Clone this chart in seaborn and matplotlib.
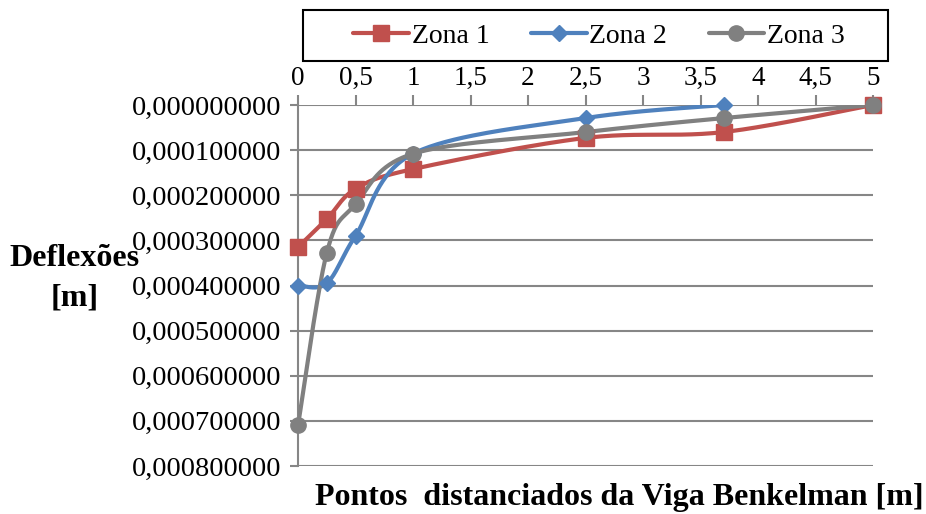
import numpy as np
import pandas as pd
import seaborn as sns
import matplotlib.pyplot as plt
from matplotlib.lines import Line2D
from matplotlib.patches import Rectangle
from matplotlib.ticker import FuncFormatter, MultipleLocator

# Deflection readings along the Benkelman beam (distance in m, deflection in m)
dist_z1 = [0, 0.25, 0.5, 1, 2.5, 3.7, 5]
zona1 = [0.000315, 0.000253, 0.000186, 0.000142, 0.000073, 0.000060, 0.0]

dist_z2 = [0, 0.25, 0.5, 1, 2.5, 3.7]
zona2 = [0.000400, 0.000395, 0.000290, 0.000108, 0.000029, 0.0]

dist_z3 = [0, 0.25, 0.5, 1, 2.5, 3.7, 5]
zona3 = [0.000710, 0.000328, 0.000220, 0.000108, 0.000060, 0.000029, 0.0]

series_names = ["Zona 1", "Zona 2", "Zona 3"]
colors = ["#C0504D", "#4F81BD", "#808080"]
markers = ["s", "D", "o"]
msizes = [11, 8, 11]

sns.set_theme(style="white")
plt.rcParams["font.family"] = ["Liberation Serif", "DejaVu Serif"]
plt.rcParams["text.color"] = "black"

W, H = 926, 514
fig = plt.figure(figsize=(W / 100, H / 100), dpi=100)
ax = fig.add_axes([298 / W, 1 - 466 / H, (873 - 298) / W, (466 - 105) / H])

XMAX, YMAX = 5.0, 0.0008
# scale factors so the smoothing is done in screen-like proportions
sx, sy = 575 / XMAX, 361 / YMAX


def smooth(xs, ys, n=40):
    """Bezier smoothing through every point (control points from neighbours)."""
    P = np.column_stack([np.asarray(xs) * sx, np.asarray(ys) * sy])
    out = []
    for i in range(len(P) - 1):
        p0 = P[i - 1] if i > 0 else P[i]
        p1, p2 = P[i], P[i + 1]
        p3 = P[i + 2] if i + 2 < len(P) else P[i + 1]
        c1 = p1 + (p2 - p0) / 6
        c2 = p2 - (p3 - p1) / 6
        t = np.linspace(0, 1, n)[:, None]
        seg = ((1 - t) ** 3) * p1 + 3 * ((1 - t) ** 2) * t * c1 + 3 * (1 - t) * t ** 2 * c2 + t ** 3 * p2
        out.append(seg if i == 0 else seg[1:])
    Q = np.vstack(out)
    return Q[:, 0] / sx, Q[:, 1] / sy


data = [(dist_z1, zona1), (dist_z2, zona2), (dist_z3, zona3)]
for (xs, ys), name, c, m, ms in zip(data, series_names, colors, markers, msizes):
    cx, cy = smooth(xs, ys)
    curve = pd.DataFrame({"x": cx, "y": cy})
    sns.lineplot(data=curve, x="x", y="y", sort=False, estimator=None,
                 color=c, lw=3, ax=ax, zorder=3)
    ax.plot(xs, ys, linestyle="none", marker=m, markersize=ms, color=c,
            markeredgecolor=c, zorder=4, clip_on=False)

ax.set_xlim(0, XMAX)
ax.set_ylim(YMAX, 0)

ax.xaxis.set_major_locator(MultipleLocator(0.5))
ax.yaxis.set_major_locator(MultipleLocator(0.0001))
ax.xaxis.tick_top()
ax.xaxis.set_major_formatter(FuncFormatter(lambda v, p: f"{v:g}".replace(".", ",")))
ax.yaxis.set_major_formatter(FuncFormatter(lambda v, p: f"{v:.9f}".replace(".", ",")))

ax.grid(axis="y", color="#868686", lw=1.5)
ax.grid(axis="x", visible=False)
for s in ["right", "bottom", "top"]:
    ax.spines[s].set_visible(False)
ax.spines["left"].set_color("#868686")
ax.spines["left"].set_linewidth(1.5)
ax.tick_params(axis="x", which="major", top=True, bottom=False, length=7, width=1.5,
               color="#868686", labelsize=19.5, pad=3, labelcolor="black")
ax.tick_params(axis="y", which="major", left=True, length=6, width=1.5,
               color="#868686", labelsize=20.4, pad=6, labelcolor="black")
ax.set_xlabel("")
ax.set_ylabel("")

# legend: frameless entries inside a drawn box
fig.patches.append(Rectangle((303 / W, 1 - 61 / H), (888 - 303) / W, 51 / H,
                             transform=fig.transFigure, facecolor="white",
                             edgecolor="black", lw=1.5, zorder=1))
handles = [Line2D([0], [0], color=c, lw=3, marker=m, markersize=ms)
           for c, m, ms in zip(colors, markers, msizes)]
leg = fig.legend(handles, series_names, loc="center",
                 bbox_to_anchor=(599 / W, 1 - 36 / H), ncol=3,
                 frameon=False, fontsize=20, handlelength=2.0,
                 handletextpad=0.1, columnspacing=1.5, borderpad=0.2)
for t in leg.get_texts():
    t.set_color("black")

fig.text(75 / W, 1 - 278 / H, "Deflexões\n[m]", ha="center", va="center",
         fontsize=23, fontweight="bold", linespacing=1.5, color="black")
fig.text(619 / W, 1 - 497 / H, "Pontos  distanciados da Viga Benkelman [m]",
         ha="center", va="center", fontsize=23, fontweight="bold", color="black")

fig.savefig("out.png", dpi=100)
